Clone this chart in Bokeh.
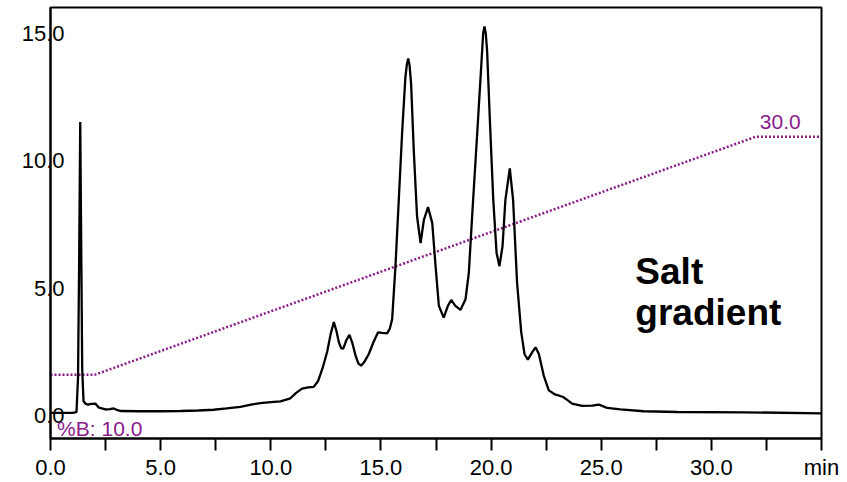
from bokeh.plotting import figure
from bokeh.models import Range1d, FixedTicker, Label, PrintfTickFormatter
from bokeh.embed import file_html
from bokeh.resources import INLINE

# Chromatogram trace (time in min, absorbance)
time_min = [0.0, 0.5, 1.0, 1.18, 1.25, 1.30, 1.35, 1.40, 1.44, 1.50, 1.60, 1.70, 1.85, 2.04,
            2.20, 2.50, 2.70, 2.87, 3.05, 3.20, 4.0, 5.0, 5.9, 6.7, 7.4, 8.0, 8.62, 9.1,
            9.53, 10.0, 10.44, 10.89, 11.15, 11.42, 11.7, 11.95, 12.15, 12.35, 12.56,
            12.72, 12.86, 12.97, 13.09, 13.2, 13.29, 13.43, 13.57, 13.7, 13.85, 13.98,
            14.1, 14.25, 14.45, 14.65, 14.87, 15.05, 15.28, 15.4, 15.51, 15.66, 15.81,
            15.96, 16.11, 16.18, 16.24, 16.30, 16.37, 16.49, 16.64, 16.80, 16.95, 17.14,
            17.33, 17.48, 17.63, 17.85, 18.04, 18.19, 18.38, 18.61, 18.84, 18.99, 19.14,
            19.37, 19.55, 19.64, 19.70, 19.76, 19.82, 19.94, 20.10, 20.25, 20.38, 20.52,
            20.65, 20.85, 21.0, 21.18, 21.37, 21.52, 21.67, 21.87, 22.02, 22.17, 22.39,
            22.62, 22.92, 23.10, 23.27, 23.5, 23.68, 24.13, 24.6, 24.89, 25.1, 25.27,
            25.87, 26.93, 28.45, 31.47, 35.0]
absorbance = [0.10, 0.10, 0.10, 0.13, 1.5, 6.0, 11.52, 6.0, 1.8, 0.55, 0.45, 0.42, 0.45, 0.46,
              0.30, 0.23, 0.24, 0.27, 0.20, 0.17, 0.16, 0.16, 0.17, 0.19, 0.22, 0.27, 0.33, 0.42,
              0.48, 0.52, 0.55, 0.67, 0.88, 1.05, 1.10, 1.12, 1.35, 1.85, 2.5,
              3.2, 3.66, 3.35, 2.87, 2.63, 2.62, 2.95, 3.16, 2.85, 2.34, 2.03,
              1.95, 2.1, 2.41, 2.85, 3.26, 3.24, 3.22, 3.4, 3.78, 5.86, 8.46,
              11.07, 13.28, 13.8, 14.02, 13.75, 13.02, 10.42, 7.81, 6.77, 7.68, 8.18,
              7.55, 5.86, 4.3, 3.84, 4.3, 4.53, 4.3, 4.14, 4.56, 5.6, 7.81,
              11.07, 13.67, 15.0, 15.28, 15.0, 14.32, 11.72, 8.46, 6.38, 5.86, 6.64,
              8.46, 9.70, 8.46, 5.21, 3.26, 2.4, 2.19, 2.48, 2.67, 2.41, 1.56,
              0.98, 0.81, 0.77, 0.72, 0.58, 0.46, 0.37, 0.38, 0.42, 0.35, 0.29,
              0.23, 0.16, 0.13, 0.12, 0.08]

# Gradient program (%B)
grad_time = [0.0, 2.0, 32.0, 35.0]
grad_pctB = [10.0, 10.0, 30.0, 30.0]

# Axis ticks
x_ticks = [0, 5, 10, 15, 20, 25, 30, 35]
x_minor_ticks = [2.5, 7.5, 12.5, 17.5, 22.5, 27.5, 32.5]
x_unit_label = {35: "min"}
y_ticks = [0, 5, 10, 15]

PURPLE = "#8B1A8B"
FONT = "Liberation Sans"

p = figure(width=847, height=482, output_backend="svg", toolbar_location=None,
           x_range=Range1d(0, 35), y_range=Range1d(-0.91, 16.02),
           min_border_left=50, min_border_right=26, min_border_top=7, min_border_bottom=42)
p.extra_y_ranges = {"pctB": Range1d(4.65, 40.87)}
p.grid.visible = False
p.background_fill_color = "white"
p.border_fill_color = "white"
p.outline_line_color = "black"
p.outline_line_width = 2
p.outline_line_alpha = 1.0

p.line(grad_time, grad_pctB, y_range_name="pctB", line_color=PURPLE,
       line_width=2.5, line_dash="2 2")
p.line(time_min, absorbance, line_color="black", line_width=2.3)

# x axis
xa = p.xaxis[0]
xa.ticker = FixedTicker(ticks=x_ticks, minor_ticks=x_minor_ticks)
xa.formatter = PrintfTickFormatter(format="%.1f")
xa.major_label_overrides = x_unit_label
xa.axis_line_color = "black"
xa.axis_line_width = 2
xa.major_tick_out = 12
xa.major_tick_in = 0
xa.minor_tick_out = 12
xa.minor_tick_in = 0
xa.major_tick_line_width = 2
xa.minor_tick_line_width = 2
xa.major_tick_line_color = "black"
xa.minor_tick_line_color = "black"
xa.major_label_text_font = FONT
xa.major_label_text_font_size = "22px"
xa.major_label_text_color = "black"
xa.major_label_standoff = 4

# y axis
ya = p.yaxis[0]
ya.ticker = FixedTicker(ticks=y_ticks, minor_ticks=[])
ya.formatter = PrintfTickFormatter(format="%.1f")
ya.axis_line_color = "black"
ya.axis_line_width = 2
ya.major_tick_out = 0
ya.major_tick_in = 0
ya.minor_tick_out = 0
ya.minor_tick_in = 0
ya.major_label_text_font = FONT
ya.major_label_text_font_size = "22px"
ya.major_label_text_color = "black"
ya.major_label_standoff = -14

# Text annotations
p.add_layout(Label(x=0.30, y=-0.50, text="%B: 10.0", text_align="left",
                   text_baseline="alphabetic", text_font=FONT,
                   text_font_size="21px", text_color=PURPLE))
p.add_layout(Label(x=32.2, y=11.52, text="30.0", text_align="left",
                   text_baseline="alphabetic", text_font=FONT,
                   text_font_size="21px", text_color=PURPLE))
p.add_layout(Label(x=26.55, y=5.66, text="Salt", text_align="left",
                   text_baseline="alphabetic", text_font=FONT, text_font_style="bold",
                   text_font_size="37px", text_color="black"))
p.add_layout(Label(x=26.55, y=4.04, text="gradient", text_align="left",
                   text_baseline="alphabetic", text_font=FONT, text_font_style="bold",
                   text_font_size="37px", text_color="black"))

open("out.html", "w").write(file_html(p, INLINE))
